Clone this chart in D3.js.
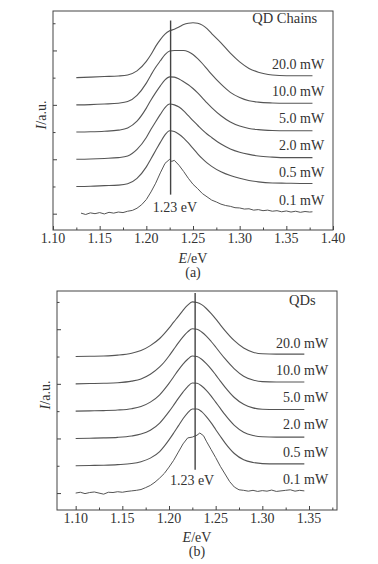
<!DOCTYPE html>
<html><head><meta charset="utf-8">
<script src="https://cdn.jsdelivr.net/npm/d3@7"></script>
<style>
body{margin:0;background:#fff;}
svg{display:block;}
text{font-family:"Liberation Serif","Times New Roman",serif;fill:#333;}
</style>
</head><body>
<svg id="chart" width="378" height="564"></svg>
<script>
// ---------- data ----------
const powerLabels = ["20.0 mW","10.0 mW","5.0 mW","2.0 mW","0.5 mW","0.1 mW"];
const stackOffsets = [5,4,3,2,1,0];
const xTickLabelsA = [1.10,1.15,1.20,1.25,1.30,1.35,1.40];
const xTickLabelsB = [1.10,1.15,1.20,1.25,1.30,1.35];
const yTickValues = [0,1,2,3,4,5,6,7];
const peakMarkA = 1.226, peakMarkB = 1.228;
const peakLabel = "1.23 eV";

// Panel (a) QD Chains, smooth spectra (E in eV, intensity in a.u.)
const gridA = [1.125,1.14,1.155,1.17,1.18,1.19,1.20,1.205,1.21,1.215,1.22,1.225,1.23,1.235,1.24,1.245,1.25,1.255,1.26,1.265,1.27,1.28,1.29,1.30,1.31,1.32,1.335,1.35,1.365,1.378];
const chainA20 = [0,0.02,0.04,0.06,0.1,0.25,0.6,0.85,1.15,1.4,1.6,1.72,1.78,1.86,1.95,2.0,2.02,2.0,1.93,1.8,1.62,1.28,0.9,0.58,0.34,0.2,0.1,0.07,0.07,0.07];
const chainA10 = [0,0.01,0.03,0.06,0.12,0.35,0.8,1.1,1.38,1.62,1.85,1.98,2.0,2.0,2.0,1.95,1.85,1.7,1.52,1.32,1.12,0.76,0.46,0.27,0.15,0.1,0.07,0.06,0.06,0.06];
const chainA5  = [0,0.01,0.03,0.07,0.15,0.4,0.88,1.18,1.45,1.7,1.92,2.03,2.02,1.95,1.85,1.74,1.6,1.44,1.26,1.07,0.9,0.6,0.37,0.22,0.13,0.09,0.06,0.05,0.05,0.05];
const chainA2  = [0,0.01,0.03,0.06,0.12,0.36,0.8,1.1,1.38,1.65,1.9,2.03,2.0,1.92,1.78,1.6,1.42,1.25,1.08,0.93,0.8,0.56,0.38,0.26,0.18,0.12,0.08,0.06,0.06,0.06];
const chainA05 = [0,0.01,0.03,0.05,0.1,0.3,0.72,1.02,1.32,1.62,1.9,2.05,2.02,1.92,1.78,1.6,1.4,1.2,1.02,0.87,0.74,0.54,0.4,0.3,0.22,0.17,0.13,0.12,0.11,0.11];
// Panel (a) 0.1 mW (noisy)
const gridA01 = [1.130,1.135,1.140,1.145,1.150,1.155,1.160,1.165,1.170,1.175,1.180,1.185,1.190,1.195,1.200,1.205,1.210,1.215,1.220,1.225,1.227,1.230,1.235,1.240,1.245,1.250,1.255,1.260,1.265,1.270,1.275,1.280,1.285,1.290,1.295,1.300,1.305,1.310,1.315,1.320,1.325,1.330,1.335,1.340,1.345,1.350,1.355,1.360,1.365,1.370,1.375,1.378];
const chainA01 = [0.02,-0.03,0.03,0.0,0.04,-0.01,0.05,0.02,0.06,0.04,0.09,0.12,0.2,0.33,0.52,0.8,1.12,1.5,1.85,2.0,1.92,1.96,1.78,1.55,1.3,1.08,0.92,0.74,0.62,0.5,0.43,0.35,0.3,0.27,0.22,0.21,0.17,0.18,0.13,0.15,0.11,0.13,0.09,0.11,0.07,0.1,0.06,0.09,0.05,0.08,0.06,0.07];

// Panel (b) QDs, smooth spectra
const gridB = [1.10,1.115,1.13,1.145,1.16,1.17,1.18,1.19,1.195,1.20,1.205,1.21,1.215,1.22,1.225,1.23,1.235,1.24,1.245,1.25,1.255,1.26,1.27,1.28,1.29,1.30,1.315,1.33,1.345];
const qdB20 = [0,0.01,0.02,0.05,0.12,0.22,0.4,0.66,0.84,1.04,1.26,1.47,1.69,1.88,2.0,1.98,1.9,1.76,1.58,1.38,1.16,0.95,0.58,0.31,0.16,0.1,0.09,0.09,0.09];
const qdB10 = [0,0.01,0.02,0.04,0.1,0.18,0.35,0.62,0.8,1.02,1.26,1.5,1.72,1.9,2.02,2.0,1.9,1.75,1.56,1.35,1.13,0.92,0.55,0.28,0.14,0.08,0.07,0.07,0.07];
const qdB5  = [0,0.01,0.02,0.04,0.09,0.17,0.33,0.6,0.8,1.02,1.26,1.5,1.72,1.9,2.02,2.0,1.9,1.74,1.55,1.33,1.1,0.88,0.5,0.25,0.12,0.07,0.06,0.06,0.06];
const qdB2  = [0,0.01,0.02,0.04,0.09,0.16,0.3,0.56,0.76,0.98,1.22,1.47,1.7,1.9,2.03,2.02,1.92,1.76,1.56,1.33,1.1,0.87,0.48,0.23,0.11,0.06,0.05,0.05,0.05];
const qdB05 = [0,0.01,0.02,0.04,0.08,0.15,0.28,0.52,0.72,0.95,1.2,1.46,1.72,1.94,2.08,2.08,1.98,1.8,1.58,1.33,1.08,0.84,0.45,0.22,0.12,0.08,0.07,0.07,0.07];
// Panel (b) 0.1 mW (noisy)
const gridB01 = [1.100,1.105,1.110,1.115,1.120,1.125,1.130,1.135,1.140,1.145,1.150,1.155,1.160,1.165,1.170,1.175,1.180,1.185,1.190,1.195,1.200,1.205,1.210,1.215,1.220,1.225,1.230,1.233,1.237,1.240,1.245,1.250,1.255,1.260,1.265,1.270,1.275,1.280,1.285,1.290,1.295,1.300,1.305,1.310,1.315,1.320,1.325,1.330,1.335,1.340,1.345];
const qdB01 = [0.0,0.03,-0.02,0.02,0.04,0.0,-0.04,0.03,0.02,0.05,0.03,0.06,0.08,0.1,0.13,0.2,0.28,0.4,0.55,0.72,0.95,1.2,1.5,1.8,2.02,2.05,2.12,2.2,2.1,1.9,1.6,1.3,0.98,0.7,0.42,0.22,0.12,0.1,0.07,0.1,0.06,0.09,0.07,0.11,0.06,0.08,0.1,0.12,0.07,0.1,0.08];

// ---------- layout ----------
const svg = d3.select("#chart");
const lineColor = "#555", axisColor = "#444";
const FONT = 14;

const panels = [
  {title:"QD Chains", tag:"(a)", xDomain:[1.10,1.40], xRange:[53,333], yDomain:[-0.6,7.45], yRange:[230,11],
   tickLabels:xTickLabelsA, minorTicks:d3.range(1.125,1.39,0.05),
   smoothGrid:gridA, smooth:[chainA20,chainA10,chainA5,chainA2,chainA05], noisyGrid:gridA01, noisy:chainA01,
   mark:peakMarkA, markFrom:0.7, markTo:7.1, markLabelE:1.2307, markLabelU:0.07,
   labelE:1.3905, titleE:1.383, titleU:7.0,
   tickBase:243, xTitleBase:263, tagBase:277, yTitleY:115},
  {title:"QDs", tag:"(b)", xDomain:[1.08,1.38], xRange:[57,337], yDomain:[-0.62,7.4], yRange:[510,291],
   tickLabels:xTickLabelsB, minorTicks:d3.range(1.125,1.38,0.05),
   smoothGrid:gridB, smooth:[qdB20,qdB10,qdB5,qdB2,qdB05], noisyGrid:gridB01, noisy:qdB01,
   mark:peakMarkB, markFrom:0.85, markTo:7.33, markLabelE:1.2247, markLabelU:0.3,
   labelE:1.3705, titleE:1.357, titleU:6.9,
   tickBase:523, xTitleBase:542, tagBase:556, yTitleY:395},
];

panels.forEach(p => {
  const x = d3.scaleLinear().domain(p.xDomain).range(p.xRange);
  const y = d3.scaleLinear().domain(p.yDomain).range(p.yRange);
  const g = svg.append("g");

  // frame
  g.append("rect")
    .attr("x", p.xRange[0]).attr("y", p.yRange[1])
    .attr("width", p.xRange[1]-p.xRange[0]).attr("height", p.yRange[0]-p.yRange[1])
    .attr("fill","none").attr("stroke",axisColor).attr("stroke-width",1);

  // bottom ticks (inward)
  const bottom = p.yRange[0];
  g.append("g").attr("transform",`translate(0,${bottom})`)
    .call(d3.axisBottom(x).tickValues(p.tickLabels).tickSize(-4).tickFormat(""))
    .call(a => { a.select(".domain").remove(); a.selectAll("line").attr("stroke",axisColor); });
  g.append("g").attr("transform",`translate(0,${bottom})`)
    .call(d3.axisBottom(x).tickValues(p.minorTicks).tickSize(-2.5).tickFormat(""))
    .call(a => { a.select(".domain").remove(); a.selectAll("line").attr("stroke",axisColor); });
  // tick labels
  g.selectAll(".xl").data(p.tickLabels).join("text")
    .attr("x", d => x(d)).attr("y", p.tickBase)
    .attr("text-anchor","middle").attr("font-size",FONT)
    .text(d => d.toFixed(2));

  // left ticks (inward)
  const left = p.xRange[0];
  g.append("g").attr("transform",`translate(${left},0)`)
    .call(d3.axisLeft(y).tickValues(yTickValues.filter(v => v%2===0)).tickSize(-4).tickFormat(""))
    .call(a => { a.select(".domain").remove(); a.selectAll("line").attr("stroke",axisColor); });
  g.append("g").attr("transform",`translate(${left},0)`)
    .call(d3.axisLeft(y).tickValues(yTickValues.filter(v => v%2===1)).tickSize(-2.5).tickFormat(""))
    .call(a => { a.select(".domain").remove(); a.selectAll("line").attr("stroke",axisColor); });

  // axis titles
  const xt = g.append("text")
    .attr("x", (p.xRange[0]+p.xRange[1])/2).attr("y", p.xTitleBase)
    .attr("text-anchor","middle").attr("font-size",FONT);
  xt.append("tspan").attr("font-style","italic").text("E");
  xt.append("tspan").text("/eV");
  g.append("text").attr("x",(p.xRange[0]+p.xRange[1])/2).attr("y",p.tagBase)
    .attr("text-anchor","middle").attr("font-size",FONT).text(p.tag);
  const yt = g.append("text")
    .attr("transform",`translate(${left-7},${p.yTitleY}) rotate(-90)`)
    .attr("text-anchor","middle").attr("font-size",FONT);
  yt.append("tspan").attr("font-style","italic").text("I");
  yt.append("tspan").text("/a.u.");

  // spectra
  const smoothLine = d3.line().x(d => x(d[0])).y(d => y(d[1])).curve(d3.curveMonotoneX);
  const rawLine = d3.line().x(d => x(d[0])).y(d => y(d[1]));
  p.smooth.forEach((vals,i) => {
    const pts = p.smoothGrid.map((e,k) => [e, vals[k] + stackOffsets[i]]);
    g.append("path").attr("d", smoothLine(pts))
      .attr("fill","none").attr("stroke",lineColor).attr("stroke-width",1.1);
  });
  const npts = p.noisyGrid.map((e,k) => [e, p.noisy[k] + stackOffsets[5]]);
  g.append("path").attr("d", rawLine(npts))
    .attr("fill","none").attr("stroke",lineColor).attr("stroke-width",1);

  // power labels
  g.selectAll(".pl").data(powerLabels).join("text")
    .attr("x", x(p.labelE)).attr("y", (d,i) => y(stackOffsets[i] + 0.33))
    .attr("text-anchor","end").attr("font-size",FONT)
    .text(d => d);

  // panel title
  g.append("text").attr("x", x(p.titleE)).attr("y", y(p.titleU))
    .attr("text-anchor","end").attr("font-size",FONT+0.5).text(p.title);

  // 1.23 eV marker
  g.append("line")
    .attr("x1", x(p.mark)).attr("x2", x(p.mark))
    .attr("y1", y(p.markFrom)).attr("y2", y(p.markTo))
    .attr("stroke","#444").attr("stroke-width",1.4);
  g.append("text").attr("x", x(p.markLabelE)).attr("y", y(p.markLabelU))
    .attr("text-anchor","middle").attr("font-size",FONT).text(peakLabel);
});
</script>
</body></html>
